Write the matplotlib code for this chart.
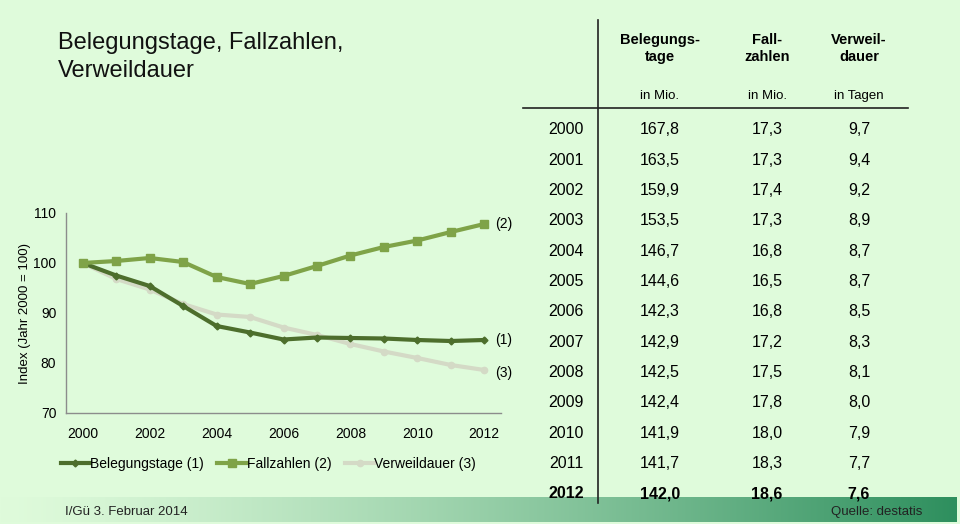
import numpy as np
import matplotlib
matplotlib.use("Agg")
import matplotlib.pyplot as plt
from matplotlib.colors import to_rgb

plt.rcParams['font.family'] = ['Liberation Sans', 'DejaVu Sans']

# ---- data ----
years = list(range(2000, 2013))
idx_belegungstage = [100, 97.5, 95.4, 91.4, 87.4, 86.1, 84.7, 85.1, 85.0, 84.9, 84.6, 84.4, 84.6]
idx_fallzahlen = [100, 100.4, 101.0, 100.2, 97.2, 95.8, 97.4, 99.4, 101.5, 103.2, 104.5, 106.2, 107.8]
idx_verweildauer = [100, 96.8, 94.7, 91.8, 89.7, 89.2, 87.1, 85.6, 83.8, 82.3, 81.0, 79.6, 78.6]

tab_belegungstage = ["167,8", "163,5", "159,9", "153,5", "146,7", "144,6", "142,3",
                     "142,9", "142,5", "142,4", "141,9", "141,7", "142,0"]
tab_fallzahlen = ["17,3", "17,3", "17,4", "17,3", "16,8", "16,5", "16,8",
                  "17,2", "17,5", "17,8", "18,0", "18,3", "18,6"]
tab_verweildauer = ["9,7", "9,4", "9,2", "8,9", "8,7", "8,7", "8,5",
                    "8,3", "8,1", "8,0", "7,9", "7,7", "7,6"]
col_headers = ["Belegungs-\ntage", "Fall-\nzahlen", "Verweil-\ndauer"]
col_units = ["in Mio.", "in Mio.", "in Tagen"]
series_names = ["Belegungstage (1)", "Fallzahlen (2)", "Verweildauer (3)"]
end_labels = ["(1)", "(2)", "(3)"]

BG = "#DFFBDB"
C1 = "#4D6E2C"
C2 = "#7FA348"
C3 = "#D4DAC6"

W, H = 960, 524
fig = plt.figure(figsize=(W / 100, H / 100), dpi=100, facecolor=BG)

# overlay axes in pixel coords
ov = fig.add_axes([0, 0, 1, 1], facecolor="none")
ov.axis("off")

# footer gradient
g0 = np.array(to_rgb(BG))
g1 = np.array(to_rgb("#2E8F5E"))
t = np.linspace(0, 1, 400)
tt = t ** 1.3
grad = (g0[None, :] * (1 - tt[:, None]) + g1[None, :] * tt[:, None])[None, :, :]
ov.imshow(grad, extent=[0, 957, 522, 497], aspect="auto", zorder=0, interpolation="bilinear")
ov.set_xlim(0, W)
ov.set_ylim(H, 0)

# title
ov.text(58, 57, "Belegungstage, Fallzahlen,\nVerweildauer", fontsize=17, va="center",
        ha="left", color="#111111", linespacing=1.3)

# footer texts
ov.text(65, 512, "I/Gü 3. Februar 2014", fontsize=9.5, va="center", ha="left", color="#222222")
ov.text(922, 512, "Quelle: destatis", fontsize=9.5, va="center", ha="right", color="#222222")

# table lines
ov.plot([598, 598], [20, 503], color="#222222", lw=1.2)
ov.plot([523, 908], [107.5, 107.5], color="#222222", lw=1.2)

col_x = [660, 767, 859]
for x, h, u in zip(col_x, col_headers, col_units):
    ov.text(x, 48.5, h, fontsize=10.5, fontweight="bold", ha="center", va="center", linespacing=1.2)
    ov.text(x, 96, u, fontsize=9.5, ha="center", va="center")

row_y0, row_dy = 130, 30.33
cols = [tab_belegungstage, tab_fallzahlen, tab_verweildauer]
for i, yr in enumerate(years):
    y = row_y0 + i * row_dy
    last = i == len(years) - 1
    kw = dict(fontsize=11.5, fontweight="bold") if last else dict(fontsize=11.5)
    ov.text(566, y, str(yr), ha="center", va="center", **kw)
    for x, c in zip(col_x, cols):
        ov.text(x, y, c[i], ha="center", va="center", **kw)

# line chart
ax = fig.add_axes([66 / W, (H - 413) / H, (501 - 66) / W, 200 / H], facecolor="none")
ax.plot(years, idx_verweildauer, color=C3, lw=3, marker="o", ms=4.5, label=series_names[2], zorder=2)
ax.plot(years, idx_belegungstage, color=C1, lw=3, marker="D", ms=3.5, label=series_names[0], zorder=3)
ax.plot(years, idx_fallzahlen, color=C2, lw=3, marker="s", ms=5.5, label=series_names[1], zorder=3)
ax.set_xlim(1999.5, 2012.5)
ax.set_ylim(70, 110)
ax.set_yticks([70, 80, 90, 100, 110])
ax.set_xticks(years[::2])
ax.tick_params(length=0, labelsize=10)
ax.tick_params(axis="x", pad=10)
ax.tick_params(axis="y", pad=7)
for s in ["top", "right"]:
    ax.spines[s].set_visible(False)
for s in ["left", "bottom"]:
    ax.spines[s].set_color("#8C8C8C")
    ax.spines[s].set_linewidth(1)
ax.set_ylabel("Index (Jahr 2000 = 100)", fontsize=9.5, labelpad=1.5)

ends = [idx_belegungstage[-1], idx_fallzahlen[-1], idx_verweildauer[-1]]
offs = [0, 0, -2]
for lab, v, o in zip(end_labels, ends, offs):
    ax.annotate(lab, (years[-1], v), xytext=(8, o), textcoords="offset points",
                fontsize=10, va="center", ha="left", annotation_clip=False)

handles, labels = ax.get_legend_handles_labels()
order = [1, 2, 0]
leg = ax.legend([handles[i] for i in order], [labels[i] for i in order], ncol=3,
                loc="upper left", bbox_to_anchor=(-0.025, -0.19), frameon=False,
                fontsize=10, handlelength=2.1, handletextpad=0.0, columnspacing=1.0,
                borderaxespad=0)

fig.savefig("out.png", dpi=100, facecolor=BG)
